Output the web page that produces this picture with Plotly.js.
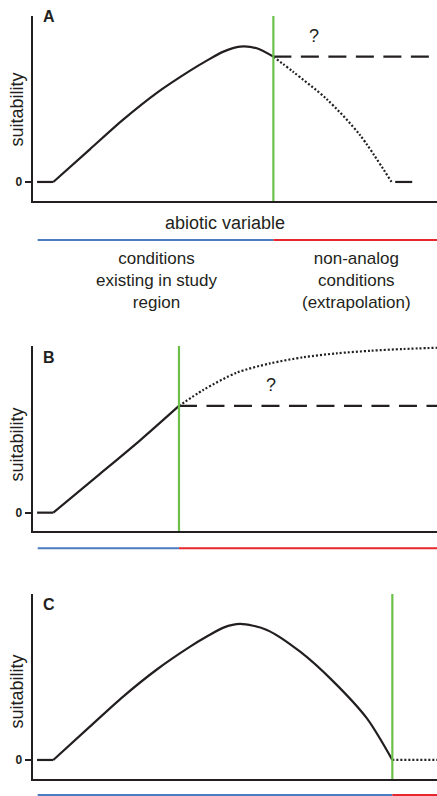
<!DOCTYPE html>
<html>
<head>
<meta charset="utf-8">
<script src="https://cdn.plot.ly/plotly-3.0.1.min.js"></script>
<style>html,body{margin:0;padding:0;background:#fff;}#chart{width:437px;height:796px;}</style>
</head>
<body>
<div id="chart"></div>
<script>
// ---- data (abiotic variable on x, suitability on y) ----
const panelLabels = ['A', 'B', 'C'];
const thresholdX = [5.97, 3.645, 8.90];      // edge of conditions existing in study region
const regionStartX = 0.165;
const regionEndX = 10;
const zeroFlatX = [0.15, 0.55];
const zeroFlatY = [0, 0];

// Panel A
const aFitX = [0.55, 1.45, 2.27, 3.10, 3.92, 4.33, 4.74, 5.15, 5.56, 5.97];
const aFitY = [0, 0.240, 0.458, 0.655, 0.818, 0.892, 0.958, 0.995, 0.983, 0.921];
const aConstX = [5.97, 10];
const aConstY = [0.921, 0.921];
const aDotX = [5.97, 6.46, 7.28, 8.10, 8.88];
const aDotY = [0.921, 0.809, 0.610, 0.346, 0];
const aRightFlatX = [8.97, 9.39];
const aRightFlatY = [0, 0];

// Panel B
const bFitX = [0.55, 1.70, 2.68, 3.645];
const bFitY = [0, 0.285, 0.530, 0.785];
const bConstX = [3.645, 10];
const bConstY = [0.785, 0.785];
const bDotX = [3.645, 4.24, 5.07, 5.89, 6.71, 7.53, 8.37, 9.17, 10.0];
const bDotY = [0.785, 0.902, 1.030, 1.098, 1.143, 1.172, 1.191, 1.204, 1.213];

// Panel C
const cFitX = [0.55, 1.45, 2.27, 3.10, 3.92, 4.33, 4.74, 5.15, 5.81, 6.63, 7.45, 8.27, 8.90];
const cFitY = [0, 0.245, 0.466, 0.665, 0.833, 0.907, 0.973, 1.0, 0.956, 0.796, 0.576, 0.307, 0];
const cDotX = [8.90, 10];
const cDotY = [0, 0];

// ---- styles ----
const INK = '#231f20';
const GREEN = '#6cc04a';
const BLUE = '#4a7cc1';
const RED = '#e8262d';
const FONT = 'Liberation Sans, Arial, Helvetica, sans-serif';

function tr(x, y, ax, dash, shape) {
  return {
    x: x, y: y, xaxis: ax[0], yaxis: ax[1], type: 'scatter', mode: 'lines',
    line: {color: INK, width: 2.2, dash: dash || 'solid', shape: shape || 'linear', smoothing: 0.8},
    hoverinfo: 'skip', showlegend: false, cliponaxis: false
  };
}
const AX = [['x', 'y'], ['x2', 'y2'], ['x3', 'y3']];
const DASH = '18px,9.5px';
const DOT = '2px,2px';

const data = [
  tr(zeroFlatX, zeroFlatY, AX[0]),
  tr(aFitX, aFitY, AX[0], 'solid', 'spline'),
  tr(aConstX, aConstY, AX[0], DASH),
  tr(aDotX, aDotY, AX[0], DOT, 'spline'),
  tr(aRightFlatX, aRightFlatY, AX[0]),
  tr(zeroFlatX, zeroFlatY, AX[1]),
  tr(bFitX, bFitY, AX[1], 'solid', 'spline'),
  tr(bConstX, bConstY, AX[1], DASH),
  tr(bDotX, bDotY, AX[1], DOT, 'spline'),
  tr(zeroFlatX, zeroFlatY, AX[2]),
  tr(cFitX, cFitY, AX[2], 'solid', 'spline'),
  tr(cDotX, cDotY, AX[2], DOT)
];

const W = 437, H = 796;
const px = v => v / W;
const py = v => 1 - v / H;

function xa(anchor) {
  return {
    domain: [px(33), 1], range: [0.05, 10], anchor: anchor,
    showline: true, linewidth: 2.3, linecolor: INK,
    showgrid: false, zeroline: false, showticklabels: false, ticks: '', fixedrange: true
  };
}
function ya(anchor, bottom, top, r) {
  return {
    domain: [py(bottom), py(top)], range: r, anchor: anchor,
    showline: true, linewidth: 2.3, linecolor: INK,
    showgrid: false, zeroline: false,
    tickmode: 'array', tickvals: [0], ticktext: ['0'],
    ticks: 'outside', ticklen: 6, tickwidth: 2, tickcolor: INK,
    tickfont: {family: FONT, size: 12, color: INK, weight: 'bold'},
    fixedrange: true
  };
}

const shapes = [];
const barY = [240, 548.3, 795];
thresholdX.forEach((t, i) => {
  const xr = AX[i][0];
  const yr = AX[i][1] + ' domain';
  shapes.push({type: 'line', xref: xr, yref: yr, x0: t, x1: t, y0: 0, y1: 1,
               line: {color: GREEN, width: 2.2}});
  shapes.push({type: 'line', xref: xr, yref: 'paper', x0: regionStartX, x1: t,
               y0: py(barY[i]), y1: py(barY[i]), line: {color: BLUE, width: 2}});
  shapes.push({type: 'line', xref: xr, yref: 'paper', x0: t, x1: regionEndX,
               y0: py(barY[i]), y1: py(barY[i]), line: {color: RED, width: 2}});
});

function ann(text, x, y, opts) {
  return Object.assign({
    text: text, xref: 'paper', yref: 'paper', x: px(x), y: py(y),
    xanchor: 'center', yanchor: 'middle', showarrow: false,
    font: {family: FONT, size: 18, color: INK}
  }, opts || {});
}

const labelY = [16.5, 357, 604];
const suitY = [110, 445, 692];
const annotations = [];
panelLabels.forEach((l, i) => {
  annotations.push(ann(l, 41, labelY[i], {xanchor: 'left',
    font: {family: FONT, size: 16, color: INK, weight: 'bold'}}));
  annotations.push(ann('suitability', 16.5, suitY[i], {textangle: -90}));
});
annotations.push(ann('?', 314, 36));
annotations.push(ann('?', 271, 385));
annotations.push(ann('abiotic variable', 225, 223));
const leftLines = ['conditions', 'existing in study', 'region'];
const rightLines = ['non-analog', 'conditions', '(extrapolation)'];
annotations.push(ann(leftLines.join('<br>'), 156.5, 280,
  {font: {family: FONT, size: 17, color: INK}}));
annotations.push(ann(rightLines.join('<br>'), 356, 280,
  {font: {family: FONT, size: 17, color: INK}}));

const layout = {
  width: W, height: H,
  margin: {l: 0, r: 0, t: 0, b: 0, pad: 0},
  paper_bgcolor: '#fff', plot_bgcolor: '#fff',
  showlegend: false,
  xaxis: xa('y'), xaxis2: xa('y2'), xaxis3: xa('y3'),
  yaxis: ya('x', 201, 16, [-0.14, 1.22]),
  yaxis2: ya('x2', 531, 346, [-0.135, 1.226]),
  yaxis3: ya('x3', 779, 594, [-0.14, 1.22]),
  shapes: shapes,
  annotations: annotations
};

Plotly.newPlot('chart', data, layout, {staticPlot: true, displayModeBar: false});
</script>
</body>
</html>
